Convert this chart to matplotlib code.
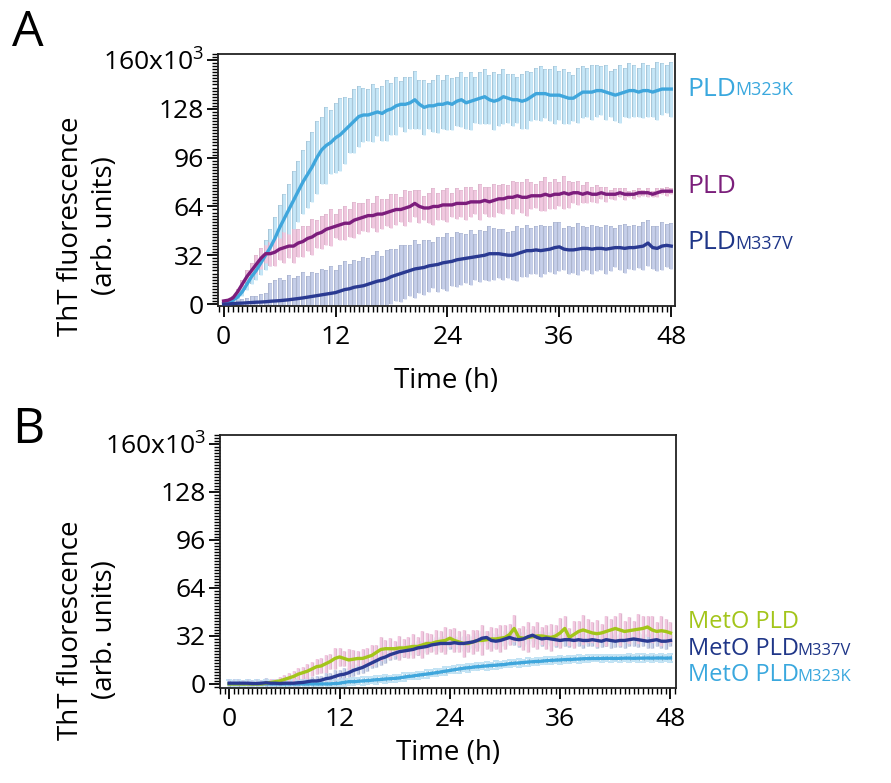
import numpy as np
import matplotlib
matplotlib.use("Agg")
import matplotlib.pyplot as plt
from matplotlib.ticker import MultipleLocator, FixedLocator
from matplotlib.transforms import blended_transform_factory

plt.rcParams['font.family'] = ['Open Sans', 'DejaVu Sans']
plt.rcParams['mathtext.fontset'] = 'custom'
plt.rcParams['mathtext.rm'] = 'Open Sans'
plt.rcParams['mathtext.it'] = 'Open Sans'
plt.rcParams['mathtext.bf'] = 'Open Sans'

# ---------------- data (time in h, fluorescence in 10^3 arb. units) ----------------
time_h = np.arange(0, 48.01, 0.5)

a_m323k = [0.5, 1, 2.5, 4.5, 8, 13, 18, 22, 27, 32,
           37, 43, 50, 56, 62, 68, 74, 80, 85, 90,
           96, 101, 104, 106, 109, 111, 114, 117, 120, 123,
           124, 124, 125, 126, 125, 127, 128, 130, 131, 131,
           132, 134, 131, 129, 130, 130, 131, 131, 132, 131,
           133, 134, 132, 133, 134, 135, 136, 134, 133, 134,
           136, 135, 134, 134, 133, 134, 136, 138, 138, 138,
           137, 137, 137, 136, 135, 135, 137, 139, 139, 139,
           140, 140, 139, 138, 137, 138, 139, 140, 140, 139,
           140, 140, 139, 140, 141, 141, 141]
a_m323k_err = [0.5, 1, 1.5, 2, 3, 4, 5, 6, 8, 10,
               12, 14, 15, 16, 17, 19, 20, 21, 22, 23,
               24, 22, 25, 21, 23, 24, 22, 18, 21, 20,
               18, 17, 19, 16, 18, 20, 17, 19, 15, 18,
               17, 19, 16, 18, 15, 17, 19, 16, 18, 17,
               16, 18, 17, 19, 15, 17, 18, 16, 19, 17,
               18, 16, 17, 15, 18, 19, 16, 17, 18, 16,
               17, 19, 16, 18, 17, 15, 18, 17, 16, 18,
               17, 16, 18, 15, 17, 19, 16, 18, 17, 16,
               18, 17, 16, 19, 17, 16, 18]

a_pld = [2, 2.5, 4, 8, 13, 18, 22, 26, 30, 33,
         33, 34, 36, 37, 38, 38, 40, 41, 43, 44,
         46, 47, 49, 50, 51, 52, 53, 53, 55, 56,
         57, 58, 58, 59, 59, 60, 61, 62, 62, 63,
         64, 66, 64, 63, 63, 64, 64, 65, 65, 65,
         66, 66, 66, 67, 67, 67, 68, 67, 68, 69,
         69, 70, 70, 71, 70, 70, 71, 71, 71, 72,
         71, 72, 72, 73, 72, 73, 73, 72, 73, 72,
         72, 73, 72, 72, 72, 73, 72, 72, 72, 73,
         73, 73, 72, 73, 74, 74, 74]
a_pld_err = [0.5, 1, 1.5, 2, 3, 4, 5, 6, 7, 6,
             8, 9, 7, 10, 8, 11, 9, 10, 8, 12,
             9, 11, 10, 12, 8, 10, 11, 9, 12, 10,
             9, 11, 8, 12, 10, 9, 11, 10, 8, 12,
             10, 9, 11, 8, 10, 12, 9, 10, 11, 8,
             10, 9, 11, 10, 8, 12, 9, 10, 11, 9,
             10, 8, 11, 9, 10, 12, 9, 8, 10, 11,
             9, 10, 8, 11, 9, 7, 8, 6, 7, 5,
             6, 4, 5, 3, 4, 3, 4, 2, 3, 3,
             2, 3, 2, 3, 2, 3, 2]

a_m337v = [0, 0, 0.3, 0.5, 0.6, 0.8, 1, 1.2, 1.3, 1.5,
           1.8, 2, 2.2, 2.5, 2.8, 3.2, 3.6, 4, 4.5, 5,
           5.5, 6, 6.5, 7, 7.5, 8.5, 9.5, 10, 11, 11.5,
           12, 13, 14, 15, 15.5, 16.5, 18, 19, 20, 21,
           22, 23, 23.5, 24, 25, 25.5, 26, 27, 27.5, 28,
           29, 29.5, 30, 30.5, 31, 31.5, 32, 33, 33, 33,
           32.5, 32, 32, 33, 34, 35, 35, 35.5, 35, 35.5,
           36, 37, 37.5, 36, 35.5, 35.5, 36, 36.5, 36.5, 36,
           36.5, 36.5, 36, 36.5, 37, 37, 36.5, 37, 37, 37.5,
           38, 40, 37, 36.5, 38, 38.5, 38]
a_m337v_err = [0.5, 1, 1.5, 2, 3, 3, 4, 4, 5, 6,
               12, 14, 15, 13, 16, 14, 15, 17, 14, 16,
               15, 17, 16, 18, 15, 17, 19, 16, 18, 17,
               19, 17, 18, 20, 16, 19, 18, 17, 19, 18,
               17, 19, 16, 18, 17, 15, 18, 17, 19, 16,
               18, 17, 16, 18, 15, 17, 16, 18, 17, 16,
               17, 15, 16, 18, 16, 17, 15, 16, 17, 16,
               15, 17, 16, 14, 16, 15, 17, 15, 14, 16,
               15, 14, 16, 15, 13, 15, 16, 14, 15, 14,
               16, 15, 14, 15, 16, 14, 15]

b_meto_pld = [0, 0, 0, 0, 0, 0, 0, 0, 0.5, 1,
              1.5, 2, 3, 4, 5, 6.5, 7.5, 8.5, 10, 11.5,
              12, 13.5, 15, 17, 18, 17, 16, 16.5, 17, 17,
              18, 19, 21, 23, 23.5, 23.5, 23.5, 24, 24, 24.5,
              25, 25, 26, 27, 27, 28, 28.5, 29, 30.5, 29,
              28, 27, 27, 28, 29, 29, 29.5, 30, 30, 30.5,
              31, 33, 37, 31, 30.5, 31, 31.5, 32, 32, 31.5,
              31, 32, 34, 37, 31, 33, 35, 36, 35, 34,
              33.5, 34, 35, 36, 37, 36, 35, 35.5, 36, 36.5,
              37, 38, 36, 35, 35.5, 35, 34]
b_meto_pld_err = [1, 1, 1, 1, 1, 1, 1, 1.5, 1.5, 2,
                  2, 2.5, 3, 3, 3.5, 4, 4, 5, 4.5, 5,
                  5, 6, 5, 7, 6, 5, 7, 6, 5, 6,
                  6, 7, 5, 8, 6, 7, 5, 8, 6, 7,
                  8, 6, 9, 7, 6, 8, 7, 9, 6, 8,
                  7, 9, 6, 8, 7, 10, 6, 8, 7, 9,
                  8, 7, 9, 6, 8, 10, 7, 9, 6, 8,
                  9, 7, 10, 8, 6, 9, 7, 10, 8, 7,
                  9, 6, 10, 7, 8, 11, 7, 9, 6, 10,
                  8, 7, 9, 6, 10, 8, 7]

b_meto_m337v = [0.5, 0.5, 0.5, 0.5, 0.5, 0.3, 0.3, 0.5, 0.8, 0.5,
                0.5, 0.3, 0.5, 0.5, 0.5, 0.8, 1, 1.5, 2, 2,
                2.5, 3.5, 4, 5, 6, 6.5, 7.5, 9, 10, 11,
                12.5, 14, 15.5, 17, 18, 19.5, 20.5, 21.5, 22, 22.5,
                23, 24, 24.5, 25, 26, 26.5, 27, 27, 27, 27.5,
                27, 27, 27.5, 28, 29, 30.5, 31, 29, 28.5, 29,
                30, 31, 30, 29.5, 30, 31.5, 32.5, 31, 30, 30.5,
                30, 29.5, 29, 29.5, 29.5, 29, 29.5, 29, 29, 29.5,
                29, 28.5, 29.5, 29, 28.5, 29, 29, 29.5, 30, 29.5,
                29, 28.5, 29, 29.5, 28.5, 28.5, 29]
b_meto_m337v_err = [3, 2.5, 3, 2, 3, 2.5, 3, 2, 3, 2.5,
                    2.5, 3, 2, 3, 2.5, 3, 2, 3, 2.5, 3,
                    3, 3.5, 3, 4, 3.5, 4, 3, 4, 3.5, 4,
                    4, 3.5, 4, 4.5, 4, 3.5, 4, 4.5, 4, 3.5,
                    4, 4.5, 4, 3.5, 4, 4.5, 4, 5, 4, 4.5,
                    4, 5, 4.5, 4, 5, 4.5, 4, 5, 4.5, 4,
                    5, 4.5, 4, 5, 4.5, 5, 4, 4.5, 5, 4,
                    4.5, 5, 4, 4.5, 5, 4, 4.5, 5, 4, 4.5,
                    5, 4, 4.5, 5, 4, 4.5, 5, 4, 4.5, 5,
                    4, 4.5, 5, 4, 4.5, 5, 4]

b_meto_m323k = [0, 0, 0, 0, 0, 0, 0, 0, 0, 0,
                0, 0, 0, 0, 0, 0, 0, 0, 0, 0,
                0, 0, 0, 0.3, 0.5, 1, 1.5, 1.5, 1.8, 2,
                2.2, 2.5, 2.8, 3, 3.3, 3.5, 3.7, 4, 4.5, 5,
                5.3, 5.8, 6.2, 6.6, 7, 7.5, 8, 8.5, 9, 9.5,
                10, 10.5, 10.8, 11.2, 11.5, 11.8, 12, 12.3, 12.5, 12.8,
                13, 13.5, 13.8, 14, 14.3, 14.6, 14.8, 15, 15.2, 15.5,
                15.7, 15.9, 16, 16.2, 16.3, 16.5, 16.6, 16.8, 16.9, 17,
                17, 17, 17.1, 17.1, 17, 17.1, 17.2, 17.2, 17.1, 17.2,
                17.2, 17.3, 17.2, 17.3, 17.3, 17.2, 17.3]
b_meto_m323k_err = [2.5, 2, 2.5, 2, 2.5, 2, 2.5, 2, 2.5, 2,
                    2.5, 2, 2.5, 2, 2.5, 2, 2.5, 2, 2.5, 2,
                    2, 2.5, 2, 2.5, 2, 2.5, 2, 2.5, 2, 2.5,
                    2.5, 2, 2.5, 2, 2.5, 2, 2.5, 2, 2.5, 2,
                    2, 2.5, 2, 2.5, 2, 2.5, 2, 2.5, 2, 2.5,
                    2.5, 2, 2.5, 2, 2.5, 2, 2.5, 2, 2.5, 2,
                    2, 2.5, 2, 2.5, 2, 2.5, 2, 2.5, 2, 2.5,
                    2.5, 2, 2.5, 2, 2.5, 2, 2.5, 2, 2.5, 2,
                    2, 2.5, 2, 2.5, 2, 2.5, 2, 2.5, 2, 2.5,
                    2.5, 2, 2.5, 2, 2.5, 2, 2.5]

y_ticks = [0, 32, 64, 96, 128, 160]
y_ticklabels = ['0', '32', '64', '96', '128', '160x10$^{3}$']
x_ticks = [0, 12, 24, 36, 48]

# colours: (line, error fill, error edge)
C_M323K, E_M323K, O_M323K = '#3fa6dc', '#c6e7f8', '#a3c3d6'
C_PLD, E_PLD, O_PLD = '#7c1d7c', '#f1c8e0', '#dab3ca'
C_M337V, E_M337V, O_M337V = '#2a3a92', '#c6cfea', '#a8b1cc'
C_METO, E_METO, O_METO = '#a3c51a', '#f2c6df', '#dbb4ca'

fig = plt.figure(figsize=(8.91, 7.83), dpi=100)
axA = fig.add_axes([218/891, 1-306/783, (675-218)/891, (306-54)/783])
axB = fig.add_axes([220/891, 1-688/783, (676-220)/891, (688-435)/783])

TICK_FS = 19
LABEL_FS = 20

def style(ax, xlim, ylim, xlabelpad):
    ax.set_xlim(*xlim)
    ax.set_ylim(*ylim)
    ax.yaxis.set_major_locator(FixedLocator(y_ticks))
    ax.set_yticklabels(y_ticklabels)
    ax.yaxis.set_minor_locator(MultipleLocator(2))
    ax.xaxis.set_major_locator(FixedLocator(x_ticks))
    ax.xaxis.set_minor_locator(MultipleLocator(0.5))
    ax.tick_params(axis='both', which='major', direction='out', length=8, width=1.3,
                   labelsize=TICK_FS, pad=2, colors='black')
    ax.tick_params(axis='x', which='major', pad=6)
    ax.tick_params(axis='both', which='minor', direction='out', length=4, width=1.0)
    ax.tick_params(top=False, right=False, which='both')
    for s in ax.spines.values():
        s.set_linewidth(1.3)
        s.set_color('#222222')
    ax.set_xlabel('Time (h)', fontsize=LABEL_FS, labelpad=xlabelpad)

def err(ax, y, e, color, edge, cap=0, lw=2.0):
    ax.errorbar(time_h, y, yerr=e, fmt='none', ecolor=edge, elinewidth=lw + 0.8,
                capsize=cap, capthick=1.2, zorder=2)
    ax.errorbar(time_h, y, yerr=e, fmt='none', ecolor=color, elinewidth=lw,
                capsize=cap, capthick=1.2, zorder=2.1)

# ---------------- panel A ----------------
err(axA, a_m323k, a_m323k_err, E_M323K, O_M323K)
err(axA, a_m337v, a_m337v_err, E_M337V, O_M337V)
err(axA, a_pld, a_pld_err, E_PLD, O_PLD)
axA.plot(time_h, a_m323k, color=C_M323K, lw=2.4, zorder=4)
axA.plot(time_h, a_m337v, color=C_M337V, lw=2.4, zorder=4)
axA.plot(time_h, a_pld, color=C_PLD, lw=2.4, zorder=5)
style(axA, (-0.6, 48.4), (-1.3, 164), 12)

# ---------------- panel B ----------------
err(axB, b_meto_m323k, b_meto_m323k_err, E_M323K, O_M323K, cap=2.5, lw=1.4)
err(axB, b_meto_m337v, b_meto_m337v_err, E_M337V, O_M337V, lw=1.6)
err(axB, b_meto_pld, b_meto_pld_err, E_METO, O_METO, lw=1.6)
axB.plot(time_h, b_meto_m323k, color=C_M323K, lw=2.4, zorder=4)
axB.plot(time_h, b_meto_pld, color=C_METO, lw=2.4, zorder=4)
axB.plot(time_h, b_meto_m337v, color=C_M337V, lw=2.4, zorder=5)
style(axB, (-1.0, 48.6), (-2.7, 166), 5)

# series labels with small "subscript" parts
def series_label(ax, xfrac, y, main, sub, color, size, subsize):
    tr = blended_transform_factory(ax.transAxes, ax.transData)
    t = ax.text(xfrac, y, main, transform=tr, color=color, fontsize=size,
                ha='left', va='center', clip_on=False)
    if sub:
        ax.annotate(sub, xy=(1, 0), xycoords=t, xytext=(-1.0, 1.5),
                    textcoords='offset points', ha='left', va='bottom',
                    color=color, fontsize=subsize, annotation_clip=False)

series_label(axA, 1.028, 141, 'PLD', 'M323K', '#3aa8de', 19, 13)
series_label(axA, 1.028, 77, 'PLD', '', '#7b1f7b', 19, 13)
series_label(axA, 1.028, 40.5, 'PLD', 'M337V', '#1f3688', 19, 13)

series_label(axB, 1.026, 41, 'MetO PLD', '', '#a3c51a', 17, 12)
series_label(axB, 1.026, 23.5, 'MetO PLD', 'M337V', '#1f3688', 17, 12)
series_label(axB, 1.026, 6, 'MetO PLD', 'M323K', '#3aa8de', 17, 12)

# y-axis labels and panel letters
for ycen in (226, 630):
    fig.text(88/891, 1-ycen/783, 'ThT fluorescence\n(arb. units)', rotation=90,
             ha='center', va='center', fontsize=LABEL_FS, multialignment='center',
             linespacing=1.3)
fig.text(28/891, 1-33/783, 'A', fontsize=36, ha='center', va='center')
fig.text(28/891, 1-430/783, 'B', fontsize=36, ha='center', va='center')

fig.savefig('out.png', dpi=100)
